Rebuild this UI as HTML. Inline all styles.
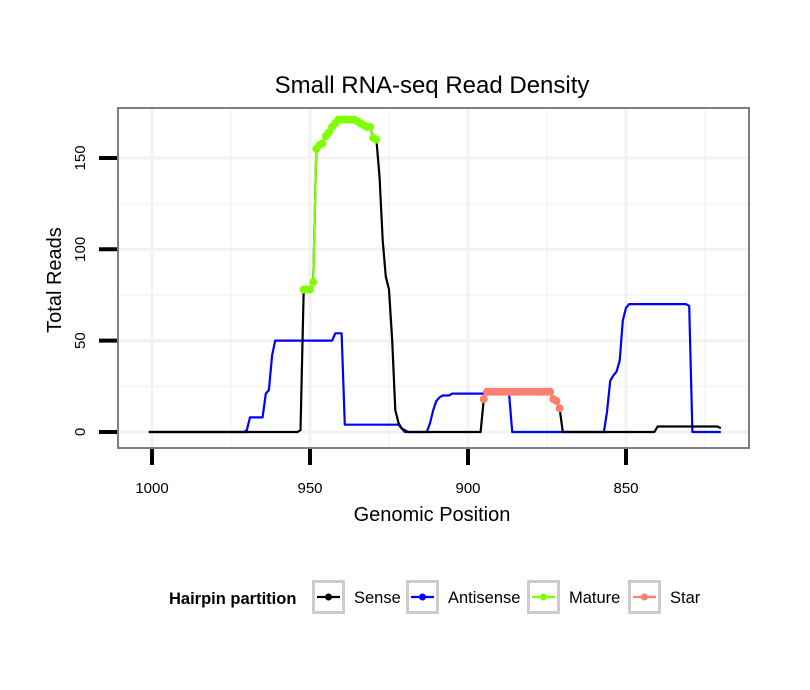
<!DOCTYPE html>
<html><head><meta charset="utf-8"><style>
body{margin:0;background:#fff;}
svg{display:block;font-family:"Liberation Sans",sans-serif;}
</style></head><body>
<svg id="chart" width="810" height="690" xmlns="http://www.w3.org/2000/svg">
<rect width="810" height="690" fill="#fff"/>
<text x="432" y="93" font-size="24" text-anchor="middle">Small RNA-seq Read Density</text>
<rect x="118" y="108" width="631" height="340" fill="#fff"/>
<g id="grid"></g>
<g id="series"></g>
<rect x="118" y="108" width="631" height="340" fill="none" stroke="#7f7f7f" stroke-width="2"/>
<g id="axes"></g>
<text transform="translate(61,280) rotate(-90)" font-size="20" text-anchor="middle">Total Reads</text>
<text x="432" y="521" font-size="20" text-anchor="middle">Genomic Position</text>
<g id="legend">
<text x="169" y="604" font-size="16.5" font-weight="bold">Hairpin partition</text>
</g>
</svg>
<script>
const xTicks=[1000,950,900,850];
const xMinor=[975,925,875,825];
const yTicks=[0,50,100,150];
const yMinor=[25,75,125];
const sensePos=[1001,954,953,952,950,949,948,947,946,945,944,943,942,941,936,935,933,931,930,929,928,927,926,925,924,923,922,921,920,919,896,895,894,874,873,872,871,870,841,840,821,820];
const senseVal=[0,0,1,78,78,82,155,157,158,162,164,167,169,171,171,170,168,167,161,160,140,105,85,78,50,12,5,2,1,0,0,18,22,22,18,17,13,0,0,3,3,2];
const antiPos=[1001,971,970,969,965,964,963,962,961,943,942,940,939,922,921,920,913,912,911,910,909,908,906,905,887,886,857,856,855,854,853,852,851,850,849,831,830,829,820];
const antiVal=[0,0,1,8,8,21,23,42,50,50,54,54,4,4,2,0,0,5,12,17,19,20,20,21,21,0,0,11,28,31,33,39,61,68,70,70,69,0,0];
const maturePos=[952,951,950,949,948,947,946,945,944,943,942,941,940,939,938,937,936,935,934,933,932,931,930,929];
const matureVal=[78,78,78,82,155,157,158,162,164,167,169,171,171,171,171,171,171,170,169,168,167,167,161,160];
const starPos=[895,894,893,892,891,890,889,888,887,886,885,884,883,882,881,880,879,878,877,876,875,874,873,872,871];
const starVal=[18,22,22,22,22,22,22,22,22,22,22,22,22,22,22,22,22,22,22,22,22,22,18,17,13];

const NS="http://www.w3.org/2000/svg";
const X=v=>152+(1000-v)*3.16;
const Y=r=>432-r*1.827;
function mk(tag,attrs,parent){const e=document.createElementNS(NS,tag);for(const k in attrs)e.setAttribute(k,attrs[k]);parent.appendChild(e);return e;}
const grid=document.getElementById('grid'),series=document.getElementById('series'),axes=document.getElementById('axes'),legend=document.getElementById('legend');
xMinor.forEach(v=>{const l=mk('line',{x1:X(v),x2:X(v),y1:109,y2:447,stroke:'#f7f7f7','stroke-width':2},grid);

});
yMinor.forEach(v=>{const l=mk('line',{x1:119,x2:748,y1:Y(v),y2:Y(v),stroke:'#f7f7f7','stroke-width':2},grid);

});
xTicks.forEach(v=>{const l=mk('line',{x1:X(v),x2:X(v),y1:109,y2:447,stroke:'#f2f2f2','stroke-width':3},grid);


const t=mk('line',{x1:X(v),x2:X(v),y1:449,y2:465,stroke:'#000','stroke-width':4},axes);


const tx=mk('text',{x:X(v),y:493,'font-size':15,'text-anchor':'middle'},axes);tx.textContent=v;

});
yTicks.forEach(v=>{const l=mk('line',{x1:119,x2:748,y1:Y(v),y2:Y(v),stroke:'#f2f2f2','stroke-width':3},grid);


const t=mk('line',{x1:99,x2:117,y1:Y(v),y2:Y(v),stroke:'#000','stroke-width':4},axes);


const tx=mk('text',{transform:`translate(85,${Y(v)}) rotate(-90)`,'font-size':15,'text-anchor':'middle'},axes);tx.textContent=v;

});
function line(pos,val,color,name){const d=pos.map((p,i)=>(i?'L':'M')+X(p).toFixed(1)+','+Y(val[i]).toFixed(1)).join('');
const p=mk('path',{d:d,fill:'none',stroke:color,'stroke-width':2.2,'stroke-linejoin':'round'},series);

}
function pts(pos,val,color,name){pos.forEach((p,i)=>{const c=mk('circle',{cx:X(p),cy:Y(val[i]),r:4,fill:color},series);

});}
line(antiPos,antiVal,'#0000ff','antisense-line');
line(sensePos,senseVal,'#000','sense-line');
line(maturePos,matureVal,'#7fff00','mature-line');
line(starPos,starVal,'#fa8072','star-line');
pts(maturePos,matureVal,'#7fff00','mature-point');
pts(starPos,starVal,'#fa8072','star-point');
const keys=[['Sense','#000',312],['Antisense','#0000ff',406],['Mature','#7fff00',527],['Star','#fa8072',628]];
keys.forEach(k=>{const g=mk('g',{},legend);


mk('rect',{x:k[2]+1.5,y:581.5,width:30,height:31,fill:'#fff',stroke:'#cccccc','stroke-width':3},g);
mk('line',{x1:k[2]+5,x2:k[2]+28,y1:597,y2:597,stroke:k[1],'stroke-width':2.2},g);
mk('circle',{cx:k[2]+16.5,cy:597,r:3.5,fill:k[1]},g);
const t=mk('text',{x:k[2]+42,y:603,'font-size':16.5},g);t.textContent=k[0];});
</script>
</body></html>
